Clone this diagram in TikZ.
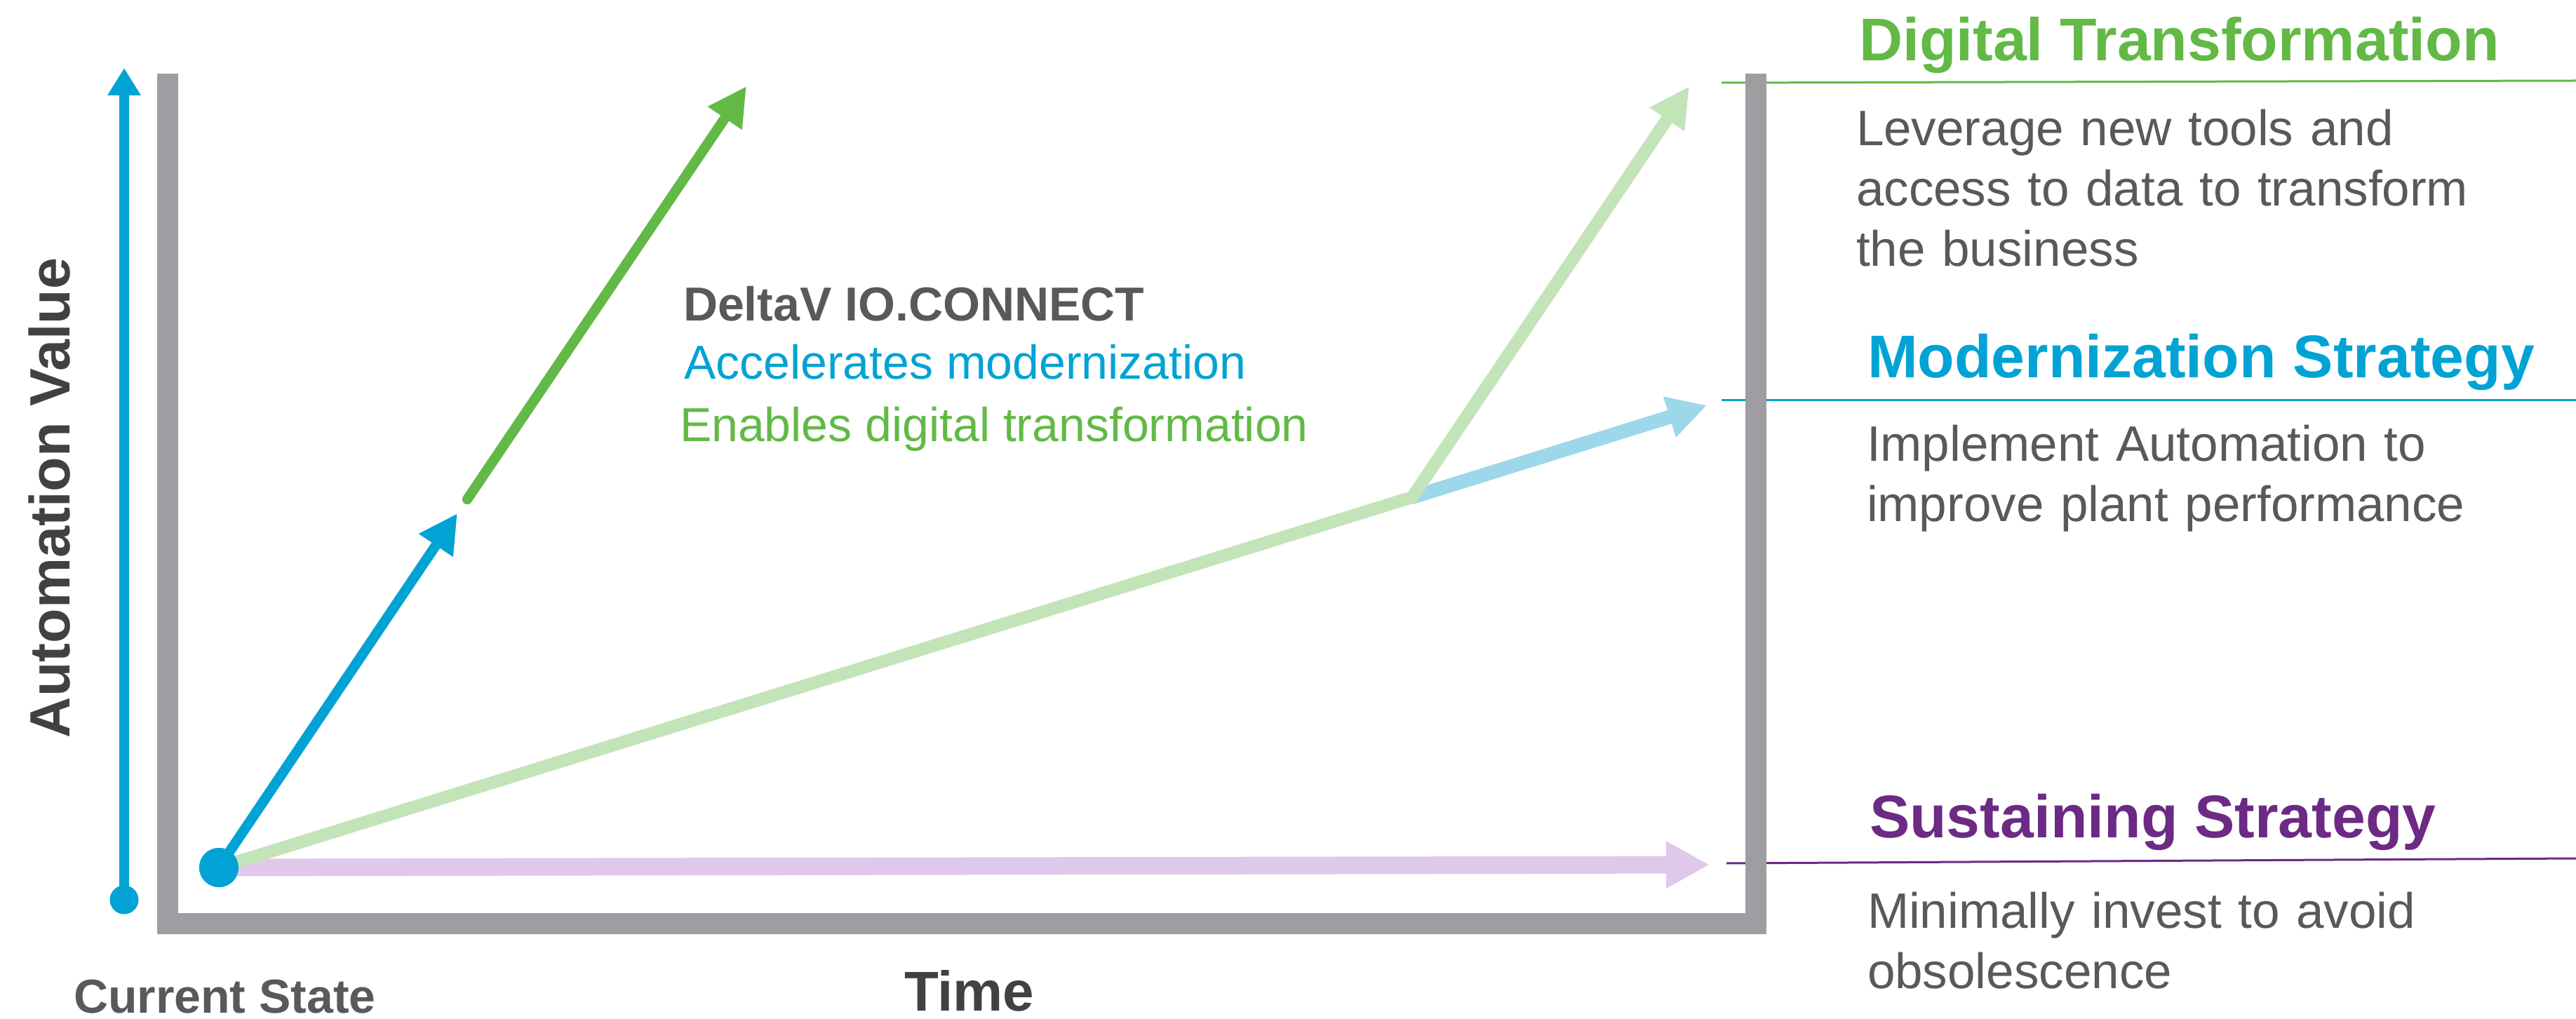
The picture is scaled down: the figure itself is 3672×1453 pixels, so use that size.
\documentclass[tikz,border=0pt]{standalone}
\usepackage{fontspec}
\setmainfont{Liberation Sans}
\usetikzlibrary{arrows.meta}
\definecolor{dblue}{HTML}{00A3D3}
\definecolor{dgreen}{HTML}{62B946}
\definecolor{lgreen}{HTML}{C3E4B8}
\definecolor{lblue}{HTML}{9DD7EA}
\definecolor{lpurple}{HTML}{E0C8EB}
\definecolor{dpurple}{HTML}{6C2A84}
\definecolor{framegray}{HTML}{9E9DA2}
\definecolor{tgray}{HTML}{58595B}
\definecolor{tdark}{HTML}{414042}
\begin{document}
\begin{tikzpicture}[x=0.25pt,y=-0.25pt,
  txt/.style={inner sep=0pt, outer sep=0pt, anchor=base west},
  bodytxt/.style={txt, text=tgray, text width=260pt, align=left,
    font=\fontsize{17.75pt}{21.5pt}\selectfont},
  titletxt/.style={txt, font=\bfseries\fontsize{21.5pt}{25pt}\selectfont},
  midtxt/.style={txt, font=\fontsize{17pt}{20pt}\selectfont},
  thinline/.style={line width=0.75pt},
  bigtip/.style={-{Triangle[length=13.75pt,width=13.75pt]}},
  dotnode/.style={circle, fill=dblue, inner sep=0pt, outer sep=0pt}]
\useasboundingbox (0,0) rectangle (3672,1453);

% right-hand separator lines
\coordinate (gl1) at (2454,118); \coordinate (gl2) at (3672,115);
\coordinate (bl1) at (2454,571); \coordinate (bl2) at (3672,571);
\coordinate (pl1) at (2461,1231); \coordinate (pl2) at (3672,1224);
\draw[thinline, dgreen] (gl1) -- (gl2);
\draw[thinline, dblue] (bl1) -- (bl2);
\draw[thinline, dpurple] (pl1) -- (pl2);

% frame
\draw[framegray, line width=7.5pt, line cap=butt, line join=miter]
  (238.5,105) -- (238.5,1317) -- (2502.5,1317) -- (2502.5,105);

% nodes / coordinates
\node[dotnode, minimum size=14pt] (start) at (312,1237) {};
\node[dotnode, minimum size=10.25pt] (axdot) at (177,1283) {};
\coordinate (axtop) at (177,97);
\coordinate (knee) at (2013,709);
\coordinate (dttip) at (2408,123);
\coordinate (mstip) at (2433,578);
\coordinate (sstip) at (2437,1233);
\coordinate (acctip) at (652,732);
\coordinate (digstart) at (666,712);
\coordinate (digtip) at (1064,123);

% strategy arrows
\draw[lpurple, line width=6.25pt, -{Triangle[length=15.5pt,width=15.75pt]}] (start.center) -- (sstip);
\draw[lblue, line width=5pt, -{Triangle[length=13.9pt,width=14.25pt]}] (knee) -- (mstip);
\draw[lgreen, line width=4.5pt, line join=round, -{Triangle[length=14.25pt,width=14pt]}] (start.center) -- (knee) -- (dttip);

% DeltaV arrows
\draw[dblue, line width=3.6pt, bigtip] (start.center) -- (acctip);
\draw[dgreen, line width=3.6pt, line cap=round, bigtip] (digstart) -- (digtip);

% redraw start dot on top
\node[dotnode, minimum size=14pt] at (start) {};

% vertical axis
\draw[dblue, line width=3.5pt, -{Triangle[length=9.75pt,width=11.25pt]}] (axdot.center) -- (axtop);

% texts
\node[txt, rotate=90, text=tdark, font=\bfseries\fontsize{20.25pt}{24pt}\selectfont] (yaxis) at (99,1052) {Automation Value};
\node[txt, text=tgray, font=\bfseries\fontsize{17pt}{20pt}\selectfont] (cur) at (105,1444) {Current State};
\node[txt, text=tdark, font=\bfseries\fontsize{20pt}{24pt}\selectfont] (time) at (1289,1441) {Time};

\node[midtxt, text=tgray, font=\bfseries\fontsize{17pt}{20pt}\selectfont] (dv) at (974,458) {DeltaV IO.CONNECT};
\node[midtxt, text=dblue] (acc) at (975,541) {Accelerates modernization};
\node[midtxt, text=dgreen] (ena) at (969,630) {Enables digital transformation};

\node[titletxt, text=dgreen] (dt) at (2650,87) {Digital Transformation};
\node[bodytxt] (dtb) at (2646,208) {Leverage new tools and\\access to data to transform\\the business};
\node[titletxt, text=dblue] (ms) at (2662,539) {Modernization Strategy};
\node[bodytxt] (msb) at (2661,658) {Implement Automation to\\improve plant performance};
\node[titletxt, text=dpurple] (ss) at (2665,1194) {Sustaining Strategy};
\node[bodytxt] (ssb) at (2662,1323) {Minimally invest to avoid\\obsolescence};
\end{tikzpicture}
\end{document}
